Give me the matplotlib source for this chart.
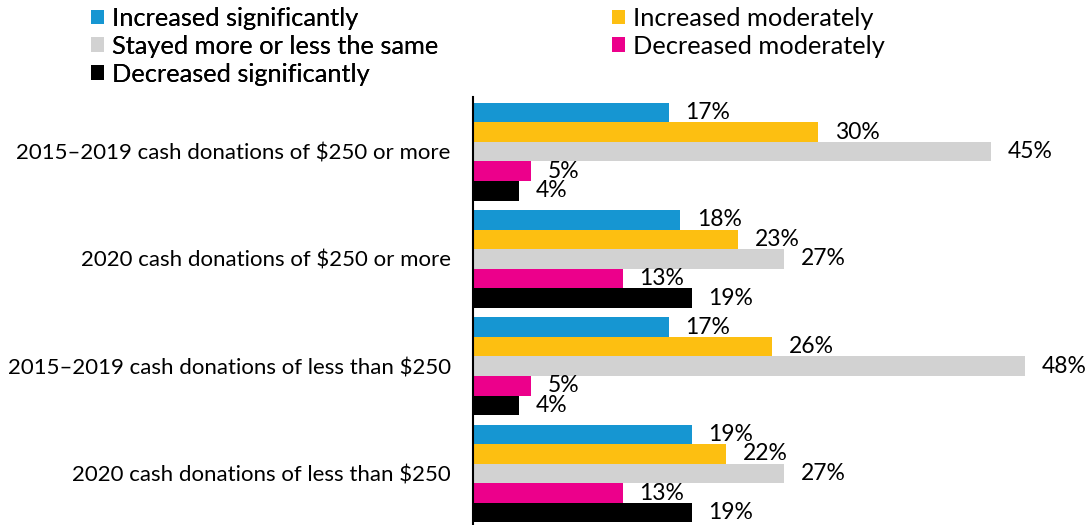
import numpy as np
import matplotlib
matplotlib.use("Agg")
import matplotlib.pyplot as plt
from matplotlib.patches import Patch

plt.rcParams['font.family'] = ['Lato', 'DejaVu Sans']

categories = ["2015\u20132019 cash donations of $250 or more",
              "2020 cash donations of $250 or more",
              "2015\u20132019 cash donations of less than $250",
              "2020 cash donations of less than $250"]
series = ["Increased significantly", "Increased moderately",
          "Stayed more or less the same", "Decreased moderately",
          "Decreased significantly"]
inc_sig = [17, 18, 17, 19]
inc_mod = [30, 23, 26, 22]
stayed = [45, 27, 48, 27]
dec_mod = [5, 13, 5, 13]
dec_sig = [4, 19, 4, 19]
values = [inc_sig, inc_mod, stayed, dec_mod, dec_sig]
colors = ["#1696d2", "#fdbf11", "#d2d2d2", "#ec008b", "#000000"]

W, H = 1092, 525
fig = plt.figure(figsize=(W / 100, H / 100), dpi=100)
ax = fig.add_axes([473 / W, 0, 619 / W, 428 / H])

bh = 0.182
y = np.arange(len(categories))
for j, (vals, col) in enumerate(zip(values, colors)):
    pos = y + (j - 2) * bh
    ax.barh(pos, vals, height=bh, color=col, edgecolor='none')
    for p, v in zip(pos, vals):
        ax.annotate(f"{v}%", (v, p), xytext=(12.2, 0), textcoords='offset points',
                    va='center', ha='left', fontsize=16.5, color='#000000')

ax.set_xlim(0, 619 / 11.5)
ax.set_ylim(3.48, -0.51)
ax.set_yticks(y)
ax.set_yticklabels(categories, fontsize=16)
ax.tick_params(axis='y', length=0, pad=16)
ax.set_xticks([])
for s in ['top', 'right', 'bottom']:
    ax.spines[s].set_visible(False)
ax.spines['left'].set_linewidth(1.5)
ax.spines['left'].set_color('#000000')

# legend: two separate columns
handles = [Patch(facecolor=c, edgecolor='none') for c in colors]
leg_kw = dict(loc='upper left', frameon=False, fontsize=18.3,
              handlelength=0.52, handleheight=0.52, handletextpad=0.3,
              labelspacing=0.19, borderaxespad=0, borderpad=0)
leg1 = fig.legend([handles[0], handles[2], handles[4]],
                  [series[0], series[2], series[4]],
                  bbox_to_anchor=(91 / W, 1 - 7 / H), **leg_kw)
leg2 = fig.legend([handles[1], handles[3]], [series[1], series[3]],
                  bbox_to_anchor=(612 / W, 1 - 7 / H), **leg_kw)
fig.add_artist(leg1)

fig.savefig("out.png", dpi=100)
